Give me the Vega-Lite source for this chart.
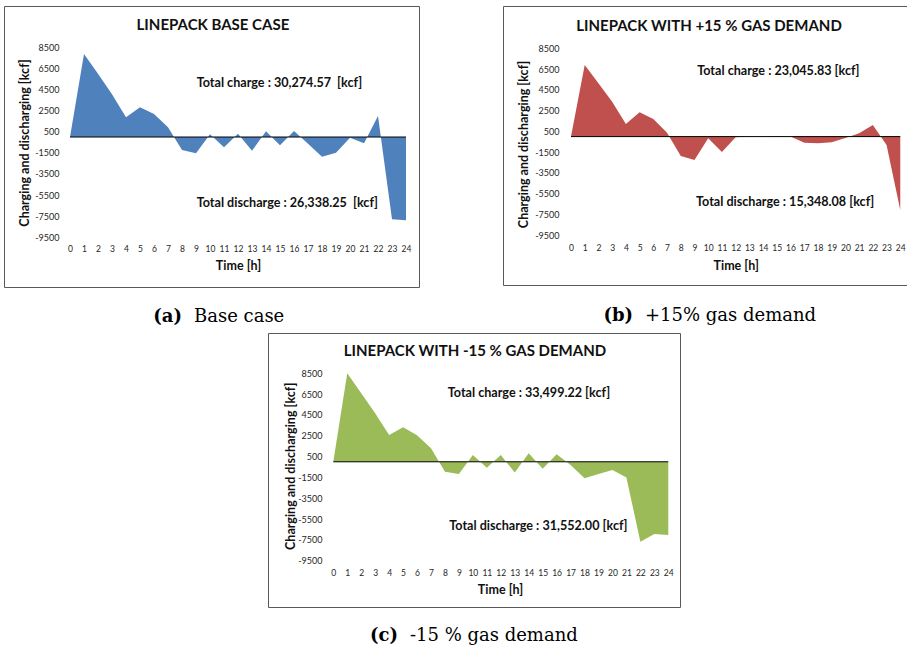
{
  "$schema": "https://vega.github.io/schema/vega-lite/v6.json",
  "padding": {"left": 3, "top": 5, "right": 0, "bottom": 0},
  "background": "white",
  "config": {"font": "Lato", "view": {"stroke": "#595959", "strokeWidth": 1}, "axis": {"labelOverlap": false}},
  "datasets": {
    "linepack": [
      {"case": "base", "hour": 0, "value": 0}, {"case": "base", "hour": 1, "value": 7870}, {"case": "base", "hour": 2, "value": 6000}, {"case": "base", "hour": 3, "value": 4050}, {"case": "base", "hour": 4, "value": 1870}, {"case": "base", "hour": 5, "value": 2820}, {"case": "base", "hour": 6, "value": 2180}, {"case": "base", "hour": 7, "value": 920}, {"case": "base", "hour": 8, "value": -1230}, {"case": "base", "hour": 9, "value": -1540}, {"case": "base", "hour": 10, "value": 260}, {"case": "base", "hour": 11, "value": -970}, {"case": "base", "hour": 12, "value": 320}, {"case": "base", "hour": 13, "value": -1300}, {"case": "base", "hour": 14, "value": 540}, {"case": "base", "hour": 15, "value": -780}, {"case": "base", "hour": 16, "value": 570}, {"case": "base", "hour": 17, "value": -640}, {"case": "base", "hour": 18, "value": -1860}, {"case": "base", "hour": 19, "value": -1490}, {"case": "base", "hour": 20, "value": -60}, {"case": "base", "hour": 21, "value": -600}, {"case": "base", "hour": 22, "value": 1990}, {"case": "base", "hour": 23, "value": -7800}, {"case": "base", "hour": 24, "value": -7890},
      {"case": "plus15", "hour": 0, "value": 0}, {"case": "plus15", "hour": 1, "value": 6900}, {"case": "plus15", "hour": 2, "value": 5130}, {"case": "plus15", "hour": 3, "value": 3365}, {"case": "plus15", "hour": 4, "value": 1215}, {"case": "plus15", "hour": 5, "value": 2340}, {"case": "plus15", "hour": 6, "value": 1700}, {"case": "plus15", "hour": 7, "value": 380}, {"case": "plus15", "hour": 8, "value": -1865}, {"case": "plus15", "hour": 9, "value": -2250}, {"case": "plus15", "hour": 10, "value": -160}, {"case": "plus15", "hour": 11, "value": -1480}, {"case": "plus15", "hour": 12, "value": -60}, {"case": "plus15", "hour": 13, "value": 0}, {"case": "plus15", "hour": 14, "value": 0}, {"case": "plus15", "hour": 15, "value": 60}, {"case": "plus15", "hour": 16, "value": 0}, {"case": "plus15", "hour": 17, "value": -580}, {"case": "plus15", "hour": 18, "value": -650}, {"case": "plus15", "hour": 19, "value": -550}, {"case": "plus15", "hour": 20, "value": -130}, {"case": "plus15", "hour": 21, "value": 320}, {"case": "plus15", "hour": 22, "value": 1120}, {"case": "plus15", "hour": 23, "value": -800}, {"case": "plus15", "hour": 24, "value": -7065},
      {"case": "minus15", "hour": 0, "value": 0}, {"case": "minus15", "hour": 1, "value": 8500}, {"case": "minus15", "hour": 2, "value": 6580}, {"case": "minus15", "hour": 3, "value": 4660}, {"case": "minus15", "hour": 4, "value": 2575}, {"case": "minus15", "hour": 5, "value": 3310}, {"case": "minus15", "hour": 6, "value": 2540}, {"case": "minus15", "hour": 7, "value": 1290}, {"case": "minus15", "hour": 8, "value": -945}, {"case": "minus15", "hour": 9, "value": -1170}, {"case": "minus15", "hour": 10, "value": 650}, {"case": "minus15", "hour": 11, "value": -560}, {"case": "minus15", "hour": 12, "value": 650}, {"case": "minus15", "hour": 13, "value": -1040}, {"case": "minus15", "hour": 14, "value": 810}, {"case": "minus15", "hour": 15, "value": -660}, {"case": "minus15", "hour": 16, "value": 715}, {"case": "minus15", "hour": 17, "value": -300}, {"case": "minus15", "hour": 18, "value": -1580}, {"case": "minus15", "hour": 19, "value": -1170}, {"case": "minus15", "hour": 20, "value": -790}, {"case": "minus15", "hour": 21, "value": -1520}, {"case": "minus15", "hour": 22, "value": -7675}, {"case": "minus15", "hour": 23, "value": -6940}, {"case": "minus15", "hour": 24, "value": -7040}
    ]
  },
  "vconcat": [
    {
      "hconcat": [
        {
          "width": 415, "height": 281,
          "layer": [
            {
              "data": {"name": "linepack"},
              "transform": [{"filter": "datum.case === 'base'"}],
              "mark": {"type": "area", "color": "#4F81BD", "interpolate": "linear"},
              "encoding": {
                "x": {"field": "hour", "type": "quantitative", "scale": {"domain": [-4.7143, 24.9286], "nice": false, "zero": false},
                  "axis": {"values": [0,1,2,3,4,5,6,7,8,9,10,11,12,13,14,15,16,17,18,19,20,21,22,23,24], "tickCount": 25, "labelExpr": "toString(datum.value)", "domain": false, "ticks": false, "tickSize": 0, "grid": false, "offset": -39, "labelPadding": 0, "labelBaseline": "middle", "labelFontSize": 8.5, "labelColor": "#262626", "labelOverlap": false, "labelFlush": false, "labelBound": false, "title": "Time [h]", "titleX": 234, "titleY": 17.7, "titleBaseline": "middle", "titleFontSize": 12.5, "titleFontWeight": "bold", "titleColor": "#111111"}},
                "y": {"field": "value", "type": "quantitative", "scale": {"domain": [-14208, 12413], "nice": false, "zero": false},
                  "axis": {"values": [-9500,-7500,-5500,-3500,-1500,500,2500,4500,6500,8500], "tickCount": 10, "labelExpr": "toString(datum.value)", "domain": false, "ticks": false, "tickSize": 0, "grid": false, "offset": -55, "labelPadding": 0, "labelFontSize": 9, "labelColor": "#262626", "labelOverlap": false, "labelFlush": false, "labelBound": false, "title": "Charging and discharging [kcf]", "titleX": -35, "titleY": 136.5, "titleAngle": -90, "titleBaseline": "middle", "titleFontSize": 12.5, "titleFontWeight": "bold", "titleColor": "#111111"}},
                "y2": {"datum": 0}
              }
            },
            {"data": {"values": [{}]}, "mark": {"type": "rule", "color": "#000000", "strokeWidth": 1}, "encoding": {"x": {"datum": 0, "type": "quantitative"}, "x2": {"datum": 24}, "y": {"datum": 0, "type": "quantitative"}}},
            {"data": {"values": [{}]}, "mark": {"type": "text", "text": "LINEPACK BASE CASE", "align": "center", "baseline": "middle", "font": "Lato", "fontSize": 15, "fontWeight": "bold", "color": "#111111"}, "encoding": {"x": {"datum": 10.21, "type": "quantitative"}, "y": {"datum": 10584, "type": "quantitative"}}},
            {"data": {"values": [{}]}, "mark": {"type": "text", "text": "Total charge : 30,274.57\u00a0 [kcf]", "align": "left", "baseline": "middle", "font": "Lato", "fontSize": 12.6, "fontWeight": "bold", "color": "#111111"}, "encoding": {"x": {"datum": 9.05, "type": "quantitative"}, "y": {"datum": 5146, "type": "quantitative"}}},
            {"data": {"values": [{}]}, "mark": {"type": "text", "text": "Total discharge : 26,338.25\u00a0 [kcf]", "align": "left", "baseline": "middle", "font": "Lato", "fontSize": 12.6, "fontWeight": "bold", "color": "#111111"}, "encoding": {"x": {"datum": 9.05, "type": "quantitative"}, "y": {"datum": -6222, "type": "quantitative"}}},
            {"data": {"values": [{}]}, "mark": {"type": "text", "text": "(a)", "align": "right", "baseline": "alphabetic", "font": "DejaVu Serif", "fontSize": 18, "fontWeight": "bold", "color": "#000000"}, "encoding": {"x": {"datum": 8.0, "type": "quantitative"}, "y": {"datum": -17524, "type": "quantitative"}}},
            {"data": {"values": [{}]}, "mark": {"type": "text", "text": "Base case", "align": "left", "baseline": "alphabetic", "font": "DejaVu Serif", "fontSize": 18, "color": "#000000"}, "encoding": {"x": {"datum": 8.857, "type": "quantitative"}, "y": {"datum": -17524, "type": "quantitative"}}}
          ]
        },
        {
          "width": 405, "height": 279,
          "layer": [
            {
              "data": {"name": "linepack"},
              "transform": [{"filter": "datum.case === 'plus15'"}],
              "mark": {"type": "area", "color": "#C0504D", "interpolate": "linear"},
              "encoding": {
                "x": {"field": "hour", "type": "quantitative", "scale": {"domain": [-4.956, 24.563], "nice": false, "zero": false},
                  "axis": {"values": [0,1,2,3,4,5,6,7,8,9,10,11,12,13,14,15,16,17,18,19,20,21,22,23,24], "tickCount": 25, "labelExpr": "toString(datum.value)", "domain": false, "ticks": false, "tickSize": 0, "grid": false, "offset": -38, "labelPadding": 0, "labelBaseline": "middle", "labelFontSize": 8.5, "labelColor": "#262626", "labelOverlap": false, "labelFlush": false, "labelBound": false, "title": "Time [h]", "titleX": 232.7, "titleY": 18.7, "titleBaseline": "middle", "titleFontSize": 12.5, "titleFontWeight": "bold", "titleColor": "#111111"}},
                "y": {"field": "value", "type": "quantitative", "scale": {"domain": [-14284, 12572], "nice": false, "zero": false},
                  "axis": {"values": [-9500,-7500,-5500,-3500,-1500,500,2500,4500,6500,8500], "tickCount": 10, "labelExpr": "toString(datum.value)", "domain": false, "ticks": false, "tickSize": 0, "grid": false, "offset": -56, "labelPadding": 0, "labelFontSize": 9, "labelColor": "#262626", "labelOverlap": false, "labelFlush": false, "labelBound": false, "title": "Charging and discharging [kcf]", "titleX": -35.7, "titleY": 138, "titleAngle": -90, "titleBaseline": "middle", "titleFontSize": 12.5, "titleFontWeight": "bold", "titleColor": "#111111"}},
                "y2": {"datum": 0}
              }
            },
            {"data": {"values": [{}]}, "mark": {"type": "rule", "color": "#000000", "strokeWidth": 1}, "encoding": {"x": {"datum": 0, "type": "quantitative"}, "x2": {"datum": 24}, "y": {"datum": 0, "type": "quantitative"}}},
            {"data": {"values": [{}]}, "mark": {"type": "text", "text": "LINEPACK WITH +15 % GAS DEMAND", "align": "center", "baseline": "middle", "font": "Lato", "fontSize": 15, "fontWeight": "bold", "color": "#111111"}, "encoding": {"x": {"datum": 10.06, "type": "quantitative"}, "y": {"datum": 10647, "type": "quantitative"}}},
            {"data": {"values": [{}]}, "mark": {"type": "text", "text": "Total charge : 23,045.83 [kcf]", "align": "left", "baseline": "middle", "font": "Lato", "fontSize": 12.6, "fontWeight": "bold", "color": "#111111"}, "encoding": {"x": {"datum": 9.2, "type": "quantitative"}, "y": {"datum": 6344, "type": "quantitative"}}},
            {"data": {"values": [{}]}, "mark": {"type": "text", "text": "Total discharge : 15,348.08 [kcf]", "align": "left", "baseline": "middle", "font": "Lato", "fontSize": 12.6, "fontWeight": "bold", "color": "#111111"}, "encoding": {"x": {"datum": 9.11, "type": "quantitative"}, "y": {"datum": -6324, "type": "quantitative"}}},
            {"data": {"values": [{}]}, "mark": {"type": "text", "text": "(b)", "align": "right", "baseline": "alphabetic", "font": "DejaVu Serif", "fontSize": 18, "fontWeight": "bold", "color": "#000000"}, "encoding": {"x": {"datum": 4.52, "type": "quantitative"}, "y": {"datum": -17749, "type": "quantitative"}}},
            {"data": {"values": [{}]}, "mark": {"type": "text", "text": "+15% gas demand", "align": "left", "baseline": "alphabetic", "font": "DejaVu Serif", "fontSize": 18, "color": "#000000"}, "encoding": {"x": {"datum": 5.39, "type": "quantitative"}, "y": {"datum": -17749, "type": "quantitative"}}}
          ]
        }
      ],
      "spacing": 82
    },
    {
      "hconcat": [
        {"width": 252, "height": 10, "data": {"values": []}, "mark": "point", "view": {"stroke": "transparent"}},
        {
          "width": 412, "height": 274,
          "layer": [
            {
              "data": {"name": "linepack"},
              "transform": [{"filter": "datum.case === 'minus15'"}],
              "mark": {"type": "area", "color": "#9BBB59", "interpolate": "linear"},
              "encoding": {
                "x": {"field": "hour", "type": "quantitative", "scale": {"domain": [-4.678, 24.839], "nice": false, "zero": false},
                  "axis": {"values": [0,1,2,3,4,5,6,7,8,9,10,11,12,13,14,15,16,17,18,19,20,21,22,23,24], "tickCount": 25, "labelExpr": "toString(datum.value)", "domain": false, "ticks": false, "tickSize": 0, "grid": false, "offset": -35, "labelPadding": 0, "labelBaseline": "middle", "labelFontSize": 8.5, "labelColor": "#262626", "labelOverlap": false, "labelFlush": false, "labelBound": false, "title": "Time [h]", "titleX": 232, "titleY": 17.3, "titleBaseline": "middle", "titleFontSize": 12.5, "titleFontWeight": "bold", "titleColor": "#111111"}},
                "y": {"field": "value", "type": "quantitative", "scale": {"domain": [-13947, 12371], "nice": false, "zero": false},
                  "axis": {"values": [-9500,-7500,-5500,-3500,-1500,500,2500,4500,6500,8500], "tickCount": 10, "labelExpr": "toString(datum.value)", "domain": false, "ticks": false, "tickSize": 0, "grid": false, "offset": -54, "labelPadding": 0, "labelFontSize": 9, "labelColor": "#262626", "labelOverlap": false, "labelFlush": false, "labelBound": false, "title": "Charging and discharging [kcf]", "titleX": -32, "titleY": 132.8, "titleAngle": -90, "titleBaseline": "middle", "titleFontSize": 12.5, "titleFontWeight": "bold", "titleColor": "#111111"}},
                "y2": {"datum": 0}
              }
            },
            {"data": {"values": [{}]}, "mark": {"type": "rule", "color": "#000000", "strokeWidth": 1}, "encoding": {"x": {"datum": 0, "type": "quantitative"}, "x2": {"datum": 24}, "y": {"datum": 0, "type": "quantitative"}}},
            {"data": {"values": [{}]}, "mark": {"type": "text", "text": "LINEPACK WITH -15 % GAS DEMAND", "align": "center", "baseline": "middle", "font": "Lato", "fontSize": 15, "fontWeight": "bold", "color": "#111111"}, "encoding": {"x": {"datum": 10.15, "type": "quantitative"}, "y": {"datum": 10671, "type": "quantitative"}}},
            {"data": {"values": [{}]}, "mark": {"type": "text", "text": "Total charge : 33,499.22 [kcf]", "align": "left", "baseline": "middle", "font": "Lato", "fontSize": 12.6, "fontWeight": "bold", "color": "#111111"}, "encoding": {"x": {"datum": 8.2, "type": "quantitative"}, "y": {"datum": 6579, "type": "quantitative"}}},
            {"data": {"values": [{}]}, "mark": {"type": "text", "text": "Total discharge : 31,552.00 [kcf]", "align": "left", "baseline": "middle", "font": "Lato", "fontSize": 12.6, "fontWeight": "bold", "color": "#111111"}, "encoding": {"x": {"datum": 8.31, "type": "quantitative"}, "y": {"datum": -6167, "type": "quantitative"}}},
            {"data": {"values": [{}]}, "mark": {"type": "text", "text": "(c)", "align": "right", "baseline": "alphabetic", "font": "DejaVu Serif", "fontSize": 18, "fontWeight": "bold", "color": "#000000"}, "encoding": {"x": {"datum": 4.635, "type": "quantitative"}, "y": {"datum": -17213, "type": "quantitative"}}},
            {"data": {"values": [{}]}, "mark": {"type": "text", "text": "-15 % gas demand", "align": "left", "baseline": "alphabetic", "font": "DejaVu Serif", "fontSize": 18, "color": "#000000"}, "encoding": {"x": {"datum": 5.49, "type": "quantitative"}, "y": {"datum": -17213, "type": "quantitative"}}}
          ]
        }
      ],
      "spacing": 10
    }
  ],
  "spacing": 5
}
